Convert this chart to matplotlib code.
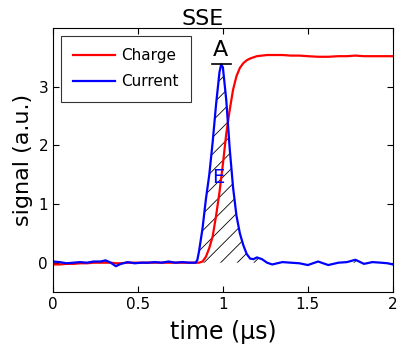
import matplotlib
matplotlib.use("Agg")
import matplotlib.pyplot as plt

time_us = [0, 0.04, 0.08, 0.12, 0.16, 0.2, 0.24, 0.28, 0.31, 0.34, 0.37, 0.40, 0.44, 0.48,
           0.52, 0.56, 0.60, 0.64, 0.68, 0.72, 0.76, 0.80, 0.84, 0.85, 0.86, 0.88, 0.90,
           0.92, 0.94, 0.96, 0.98, 0.99, 1.00, 1.02, 1.04, 1.06, 1.08, 1.10, 1.12, 1.14,
           1.16, 1.18, 1.20, 1.23, 1.26, 1.29, 1.32, 1.35, 1.40, 1.45, 1.50, 1.56, 1.62,
           1.68, 1.73, 1.78, 1.83, 1.88, 1.93, 1.97, 2.0]

current = [0.02, 0.01, -0.01, 0.0, 0.01, 0.0, 0.02, 0.02, 0.04, 0.0, -0.06, -0.02, 0.01, -0.01,
           0.0, 0.0, 0.01, 0.0, 0.02, 0.0, 0.01, 0.0, 0.0, 0.05, 0.2, 0.58, 1.08,
           1.5, 2.06, 2.7, 3.25, 3.38, 3.33, 2.77, 1.95, 1.28, 0.8, 0.5, 0.3, 0.15,
           0.07, 0.06, 0.09, 0.06, 0.0, -0.03, -0.01, 0.01, 0.0, -0.01, -0.04, 0.02, -0.04,
           0.0, 0.01, 0.05, -0.02, 0.01, 0.0, -0.01, -0.03]

charge = [-0.03, -0.03, -0.02, -0.02, -0.01, -0.01, 0.0, 0.0, 0.0, 0.0, -0.01, -0.01, 0.0, 0.0,
          0.0, 0.0, 0.0, 0.0, 0.0, 0.0, 0.0, 0.0, 0.0, 0.0, 0.0, 0.02, 0.1,
          0.25, 0.45, 0.8, 1.2, 1.44, 1.68, 2.2, 2.6, 2.95, 3.18, 3.32, 3.4, 3.45,
          3.48, 3.5, 3.52, 3.53, 3.54, 3.54, 3.54, 3.54, 3.53, 3.53, 3.52, 3.51, 3.51,
          3.52, 3.52, 3.53, 3.52, 3.52, 3.52, 3.52, 3.52]

x_ticks = [0, 0.5, 1, 1.5, 2]
x_tick_labels = ["0", "0.5", "1", "1.5", "2"]
y_ticks = [0, 1, 2, 3]

plt.rcParams['hatch.linewidth'] = 0.6
fig = plt.figure(figsize=(3.98, 3.46), dpi=100)
ax = fig.add_axes([0.133, 0.156, 0.854, 0.763])

ax.fill_between(time_us, 0, current, where=[c > 0 for c in current], interpolate=True,
                facecolor='none', edgecolor='black', hatch='//', linewidth=0)
ax.plot(time_us, charge, color='red', lw=1.6, label='Charge')
ax.plot(time_us, current, color='blue', lw=1.6, label='Current')

peak_t = time_us[current.index(max(current))]
ax.plot([0.935, 1.045], [max(current), max(current)], color='black', lw=1.2)
ax.text(peak_t - 0.005, max(current) + 0.08, 'A', fontsize=16, ha='center', va='bottom')
ax.text(0.975, 1.45, 'E', fontsize=14, color='blue', ha='center', va='center')

ax.set_xlim(0, 2)
ax.set_ylim(-0.5, 4)
ax.set_xticks(x_ticks)
ax.set_xticklabels(x_tick_labels)
ax.set_yticks(y_ticks)
ax.tick_params(direction='in', top=True, right=True, labelsize=11, length=4)
ax.set_xlabel('time (µs)', fontsize=17, labelpad=6)
ax.set_ylabel('signal (a.u.)', fontsize=16)
fig.text(203 / 398, 1 - 25 / 346, 'SSE', fontsize=16, ha='center', va='baseline')

leg = ax.legend(loc='upper left', fontsize=11, fancybox=False, edgecolor='black',
                handlelength=2.75, handletextpad=0.4, borderpad=0.8, labelspacing=0.75,
                borderaxespad=0.5)
leg.get_frame().set_linewidth(0.8)

fig.savefig('out.png', dpi=100)
